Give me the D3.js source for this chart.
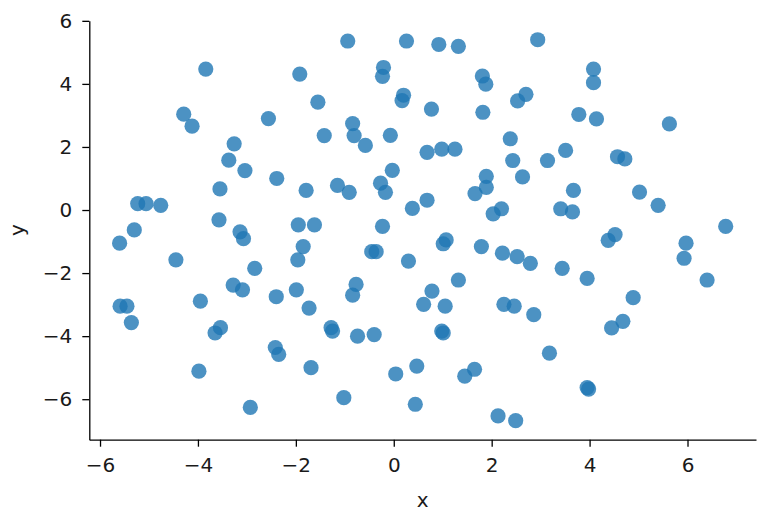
<!DOCTYPE html>
<html>
<head>
<meta charset="utf-8">
<script src="https://cdn.jsdelivr.net/npm/d3@7"></script>
<style>
  html, body { margin: 0; padding: 0; background: #fff; }
  svg { display: block; font-family: "DejaVu Sans", sans-serif; }
</style>
</head>
<body>
<svg id="chart" width="776" height="525"></svg>
<script>
const xValues = [
  -3.84, -4.29, -4.12, -3.26, -3.37, -3.04, -3.55, -5.23, -5.06, -4.76, -3.57,
  -0.94, 0.26, 0.92, 1.32, -1.92, -0.21, -0.23, 1.81, 1.88, -1.55, 0.20, 0.17, 0.77, 1.82,
  -2.56, -0.84, -1.42, -0.81, -0.58, -0.07, 0.68, 0.98, 1.25, 2.38, 2.43, -2.39, -1.79, -1.15,
  -0.91, -0.03, -0.27, -0.17, 0.38, 0.68, 1.89, 1.89, 1.66, 2.20, 2.03, -1.95, -1.62, -0.23,
  2.94, 4.08, 4.08, 2.70, 2.53, 3.78, 4.14, 5.63, 3.51, 3.14, 2.63, 4.57, 4.72, 3.67, 5.02,
  5.40, 3.41, 3.65, 6.78,
  -3.14, -3.07, -5.30, -5.60, -1.85, -1.96, -4.45, -2.84, -3.28, -3.09, -1.99, -2.40, -3.95,
  -5.59, -5.45, -1.73, -5.36,
  1.07, 1.01, 1.79, -0.45, -0.36, 2.22, 2.52, 2.79, 0.30, 1.32, -0.77, -0.84, 0.78, 0.61, 1.05,
  2.25, 2.46, 2.86,
  4.52, 4.38, 5.97, 5.93, 3.44, 3.95, 6.40, 4.89, 4.68, 4.45,
  -3.54, -3.65, -2.42, -2.35, -3.98, -1.69, -2.93,
  -1.28, -1.25, -0.74, -0.40, 0.98, 1.01, 0.04, 0.47, 1.45, 1.65, -1.02, 0.44, 2.13, 2.49,
  3.18, 3.95, 3.98
];
const yValues = [
  4.47, 3.04, 2.66, 2.10, 1.58, 1.25, 0.67, 0.20, 0.20, 0.15, -0.31,
  5.36, 5.36, 5.25, 5.19, 4.31, 4.52, 4.24, 4.25, 3.99, 3.42, 3.64, 3.47, 3.20, 3.10,
  2.90, 2.74, 2.36, 2.36, 2.05, 2.37, 1.83, 1.93, 1.93, 2.26, 1.57, 1.00, 0.62, 0.78,
  0.56, 1.26, 0.85, 0.56, 0.05, 0.31, 1.07, 0.72, 0.52, 0.04, -0.12, -0.47, -0.47, -0.52,
  5.40, 4.47, 4.04, 3.67, 3.46, 3.03, 2.89, 2.73, 1.89, 1.57, 1.05, 1.69, 1.62, 0.62, 0.57,
  0.15, 0.04, -0.06, -0.52,
  -0.69, -0.91, -0.63, -1.05, -1.16, -1.58, -1.58, -1.85, -2.38, -2.53, -2.53, -2.75, -2.89,
  -3.05, -3.05, -3.11, -3.57,
  -0.95, -1.07, -1.16, -1.32, -1.32, -1.37, -1.48, -1.69, -1.62, -2.22, -2.36, -2.70, -2.57, -2.99, -3.05,
  -2.99, -3.05, -3.32,
  -0.78, -0.96, -1.05, -1.53, -1.85, -2.17, -2.22, -2.78, -3.53, -3.74,
  -3.73, -3.90, -4.36, -4.58, -5.11, -5.00, -6.26,
  -3.73, -3.84, -4.00, -3.95, -3.84, -3.90, -5.20, -4.95, -5.27, -5.05, -5.95, -6.16, -6.53, -6.68,
  -4.54, -5.63, -5.68
];
const xTicks = [-6, -4, -2, 0, 2, 4, 6];
const yTicks = [-6, -4, -2, 0, 2, 4, 6];
const xLabel = "x";
const yLabel = "y";

(function () {
const points = xValues.map((xv, i) => ({ x: xv, y: yValues[i] }));

const mLeft = 89.3, mRight = 756, mTop = 20.7, mBottom = 439.7;

function padded(ext) {
  const r = ext[1] - ext[0];
  return [ext[0] - 0.05 * r, ext[1] + 0.05 * r];
}

const xs = d3.scaleLinear().domain(padded(d3.extent(xValues))).range([mLeft, mRight]);
const ys = d3.scaleLinear().domain(padded(d3.extent(yValues))).range([mBottom, mTop]);

const svg = d3.select("#chart");
const fontSize = 20;
const ink = "#1a1a1a";

const minus = s => String(s).replace("-", "\u2212");

svg.append("g")
  .selectAll("circle")
  .data(points)
  .join("circle")
  .attr("cx", d => xs(d.x))
  .attr("cy", d => ys(d.y))
  .attr("r", 7.6)
  .attr("fill", "#1f77b4")
  .attr("fill-opacity", 0.8);

const xAxis = svg.append("g")
  .attr("transform", `translate(0,${mBottom})`)
  .call(d3.axisBottom(xs).tickValues(xTicks).tickFormat(minus).tickSize(7).tickPadding(11).tickSizeOuter(0));
xAxis.select(".domain").attr("stroke", "#000").attr("stroke-width", 1.3);
xAxis.selectAll(".tick line").attr("stroke", "#000").attr("stroke-width", 1.3);
xAxis.selectAll(".tick text").attr("fill", ink).attr("font-size", fontSize).attr("font-family", "DejaVu Sans");

const yAxis = svg.append("g")
  .attr("transform", `translate(${mLeft},0)`)
  .call(d3.axisLeft(ys).tickValues(yTicks).tickFormat(minus).tickSize(7).tickPadding(10).tickSizeOuter(0));
yAxis.select(".domain").attr("stroke", "#000").attr("stroke-width", 1.3);
yAxis.selectAll(".tick line").attr("stroke", "#000").attr("stroke-width", 1.3);
yAxis.selectAll(".tick text").attr("fill", ink).attr("font-size", fontSize).attr("font-family", "DejaVu Sans");

svg.append("text")
  .attr("x", (mLeft + mRight) / 2)
  .attr("y", 507)
  .attr("text-anchor", "middle")
  .attr("font-size", fontSize)
  .attr("fill", ink)
  .text(xLabel);

svg.append("text")
  .attr("transform", `translate(24,${(mTop + mBottom) / 2}) rotate(-90)`)
  .attr("text-anchor", "middle")
  .attr("font-size", fontSize)
  .attr("fill", ink)
  .text(yLabel);
})();
</script>
</body>
</html>
